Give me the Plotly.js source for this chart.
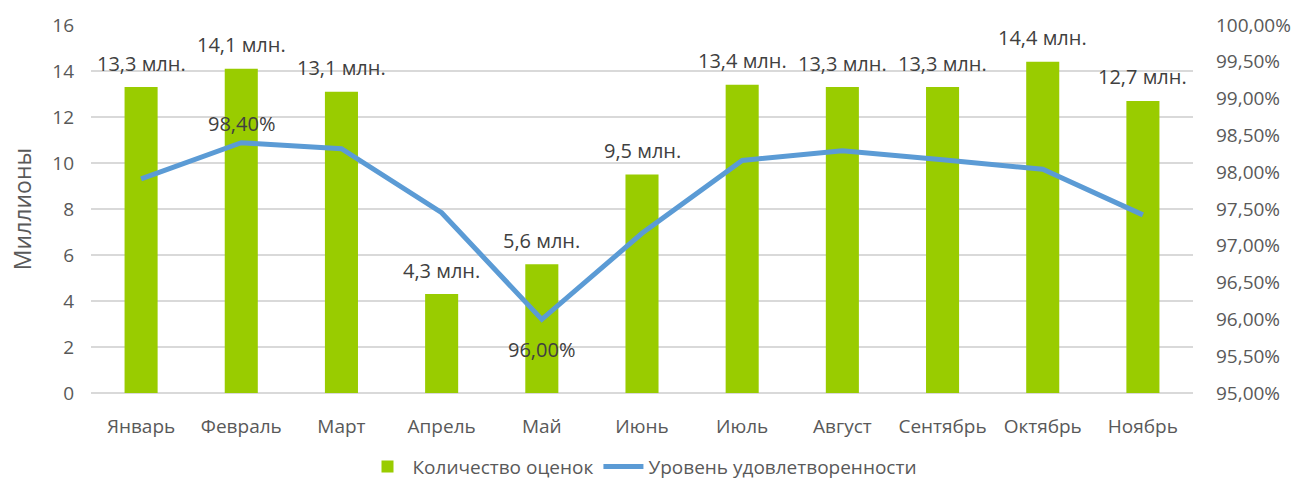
<!DOCTYPE html>
<html>
<head>
<meta charset="utf-8">
<script src="https://cdn.plot.ly/plotly-3.0.1.min.js"></script>
<style>html,body{margin:0;padding:0;background:#fff;}#chart{width:1301px;height:486px;}</style>
</head>
<body>
<div id="chart"></div>
<script>
const months = ["Январь","Февраль","Март","Апрель","Май","Июнь","Июль","Август","Сентябрь","Октябрь","Ноябрь"];
const ratings = [13.3, 14.1, 13.1, 4.3, 5.6, 9.5, 13.4, 13.3, 13.3, 14.4, 12.7];
const satisfaction = [0.9791, 0.9840, 0.9832, 0.9745, 0.9600, 0.9717, 0.9816, 0.9829, 0.9817, 0.9804, 0.9742];
const ratingLabels = ["13,3 млн.","14,1 млн.","13,1 млн.","4,3 млн.","5,6 млн.","9,5 млн.","13,4 млн.","13,3 млн.","13,3 млн.","14,4 млн.","12,7 млн."];
const lineLabelMonths = ["Февраль","Май"];
const lineLabelTexts = ["98,40%","96,00%"];

const FAM = "Open Sans, sans-serif";
const tickFont = {family: FAM, size: 19, color: "#595959"};
const labelFont = {family: FAM, size: 20, color: "#404040"};

const traces = [
  {type: "bar", name: "Количество оценок", x: months, y: ratings,
   marker: {color: "#99CC00"}, yaxis: "y", hoverinfo: "none"},
  {type: "scatter", mode: "lines", name: "Уровень удовлетворенности", x: months, y: satisfaction,
   line: {color: "#5B9BD5", width: 5}, yaxis: "y2", hoverinfo: "none"}
];

const annotations = months.map((m, i) => ({
  x: m, y: ratings[i], xref: "x", yref: "y", text: ratingLabels[i],
  showarrow: false, yshift: 24, font: labelFont
}));
lineLabelMonths.forEach((m, k) => {
  const i = months.indexOf(m);
  annotations.push({
    x: m, y: satisfaction[i], xref: "x", yref: "y2", text: lineLabelTexts[k],
    showarrow: false, yshift: k === 0 ? 19 : -30, font: labelFont
  });
});

const layout = {
  width: 1301, height: 486,
  margin: {l: 91, r: 108, t: 25, b: 93, autoexpand: false},
  paper_bgcolor: "#fff", plot_bgcolor: "#fff",
  font: tickFont,
  separators: ", ",
  bargap: 0.67,
  showlegend: true,
  legend: {orientation: "h", x: 0.5, xanchor: "center", y: -0.2, yanchor: "middle",
           font: {family: FAM, size: 19, color: "#595959"}, traceorder: "normal", itemwidth: 40},
  xaxis: {type: "category", showgrid: false, zeroline: false, showline: false,
          ticks: "", ticklabelstandoff: 20, tickfont: tickFont, fixedrange: true},
  yaxis: {range: [0, 16], dtick: 2, showgrid: true, gridcolor: "#d9d9d9", gridwidth: 1.5,
          zeroline: true, zerolinecolor: "#d9d9d9", zerolinewidth: 1.5, showline: false,
          ticks: "", ticklabelstandoff: 16, tickfont: tickFont,
          title: {text: "Миллионы", font: {family: FAM, size: 23, color: "#595959"}, standoff: 14}},
  yaxis2: {overlaying: "y", side: "right", range: [0.95, 1.0], dtick: 0.005, tickformat: ".2%",
           showgrid: false, zeroline: false, showline: false, ticks: "",
           ticklabelstandoff: 22, tickfont: tickFont},
  annotations: annotations
};

Plotly.newPlot("chart", traces, layout, {displayModeBar: false, staticPlot: true});
</script>
</body>
</html>
